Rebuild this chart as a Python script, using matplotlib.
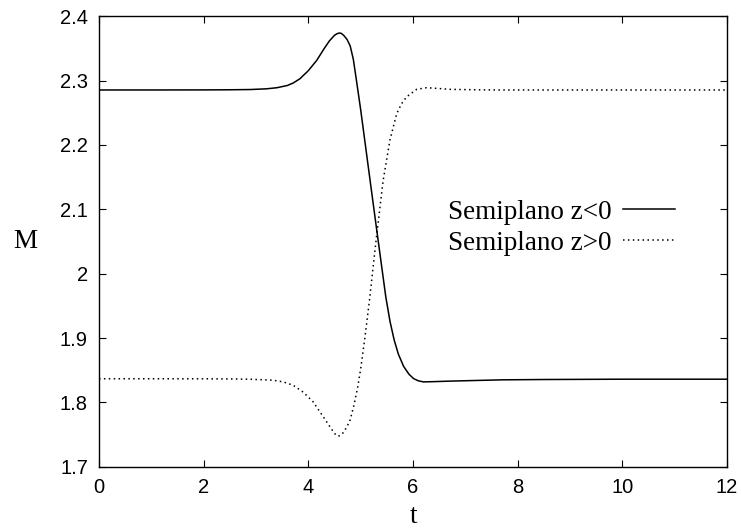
import matplotlib
matplotlib.use("Agg")
import matplotlib.pyplot as plt

# Magnetisation in each half-plane versus time
t_neg = [0, 1, 2, 2.5, 2.9, 3.2, 3.4, 3.6, 3.71, 3.84, 4.0, 4.16, 4.3, 4.4, 4.5,
         4.55, 4.59, 4.63, 4.68, 4.74, 4.80, 4.86, 4.92, 5.00, 5.08, 5.18, 5.31,
         5.40, 5.48, 5.56, 5.64, 5.72, 5.82, 5.92, 6.01, 6.10, 6.20, 6.40, 6.70,
         7.20, 7.70, 8.5, 10, 12]
m_neg = [2.2855, 2.2855, 2.2856, 2.2858, 2.2862, 2.2873, 2.2890, 2.2925, 2.2963,
         2.3030, 2.3155, 2.3315, 2.3495, 2.3615, 2.3705, 2.3730, 2.3740, 2.3735,
         2.3700, 2.3640, 2.3540, 2.3330, 2.3000, 2.2550, 2.2060, 2.1450, 2.0660,
         2.0120, 1.9640, 1.9260, 1.8970, 1.8750, 1.8560, 1.8440, 1.8370, 1.8335,
         1.8318, 1.8322, 1.8330, 1.8340, 1.8350, 1.8355, 1.8360, 1.8360]

t_pos = [0, 1, 2, 2.5, 2.9, 3.33, 3.52, 3.71, 3.90, 4.09, 4.29, 4.48, 4.53, 4.57,
         4.62, 4.68, 4.74, 4.79, 4.87, 4.94, 5.00, 5.08, 5.17, 5.30, 5.43, 5.56,
         5.69, 5.78, 5.88, 6.07, 6.26, 6.45, 6.71, 7.2, 7.6, 8.5, 10, 12]
m_pos = [1.8367, 1.8367, 1.8366, 1.8364, 1.8359, 1.8344, 1.8318, 1.8266, 1.8160,
         1.8010, 1.7770, 1.7540, 1.7490, 1.7473, 1.7490, 1.7540, 1.7630, 1.7700,
         1.7950, 1.8220, 1.8520, 1.9000, 1.9600, 2.0560, 2.1450, 2.2080, 2.2490,
         2.2640, 2.2750, 2.2865, 2.2890, 2.2880, 2.2865, 2.2858, 2.2855, 2.2855,
         2.2855, 2.2855]

labels = ["Semiplano z<0", "Semiplano z>0"]
x_ticks = [0, 2, 4, 6, 8, 10, 12]
y_ticks = [1.7, 1.8, 1.9, 2.0, 2.1, 2.2, 2.3, 2.4]
y_ticklabels = ["1.7", "1.8", "1.9", "2", "2.1", "2.2", "2.3", "2.4"]

W, H = 741, 529
fig = plt.figure(figsize=(W / 100, H / 100), dpi=100)
ax = fig.add_axes([99 / W, (H - 466.7) / H, 628 / W, 450.4 / H])

ax.plot(t_neg, m_neg, color="black", lw=1.1, label=labels[0])
ax.plot(t_pos, m_pos, color="black", lw=1.1, linestyle=(0, (1, 2.2)), label=labels[1])

ax.set_xlim(0, 12)
ax.set_ylim(1.7, 2.4)
ax.set_xticks(x_ticks)
ax.set_yticks(y_ticks)
ax.set_yticklabels(y_ticklabels)

for lab in ax.get_xticklabels() + ax.get_yticklabels():
    lab.set_fontfamily("Liberation Sans")
    lab.set_fontsize(14.5)

ax.tick_params(direction="in", length=5, width=0.8, top=True, right=True)
ax.tick_params(axis="x", pad=8)
ax.tick_params(axis="y", pad=8)
for s in ax.spines.values():
    s.set_linewidth(1.0)

serif = {"family": "Liberation Serif", "size": 19.5}
ax.set_xlabel("t", fontdict=serif, labelpad=5)
ax.set_ylabel("M", fontdict=serif, rotation=0, va="center", ha="center")
ax.yaxis.set_label_coords(-0.118, 0.5)

leg = ax.legend(loc="center right", bbox_to_anchor=(0.917, 0.531), frameon=False,
                markerfirst=False, prop={"family": "Liberation Serif", "size": 19.5},
                handlelength=1.93, handletextpad=0.42, labelspacing=0.22,
                borderpad=0, borderaxespad=0)

fig.savefig("out.png", dpi=100)
